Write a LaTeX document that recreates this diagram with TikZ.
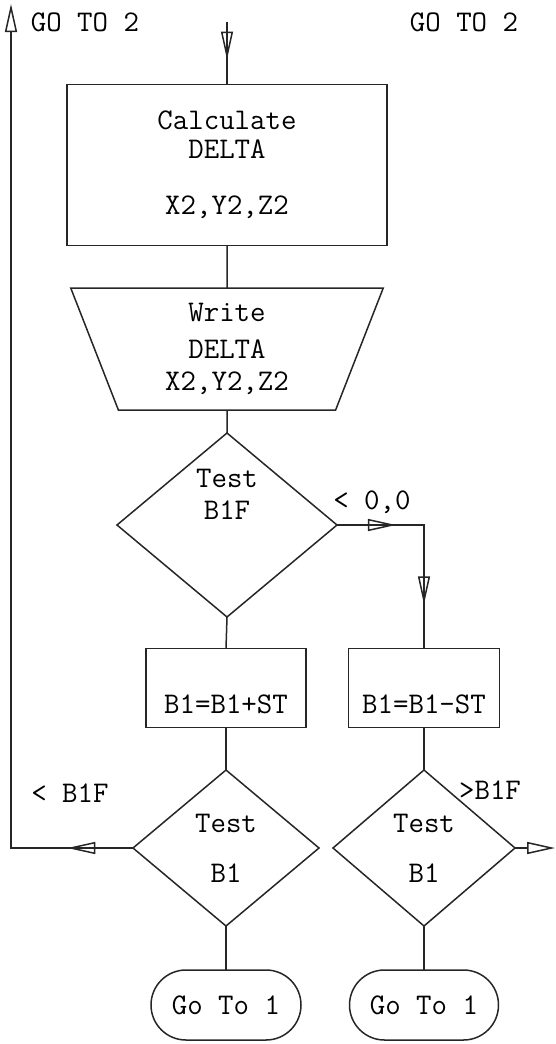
\documentclass[tikz,border=0pt]{standalone}
\usepackage{tikz}
\usetikzlibrary{shapes.geometric,shapes.misc,arrows.meta,positioning,calc,decorations.markings}

\begin{document}
\begin{tikzpicture}[
    x=1pt, y=-1pt,
    every node/.style={font=\fontsize{30}{29}\selectfont\ttfamily},
    hollowtip/.tip={Triangle[open, length=28pt, width=12pt]},
    flow/.style={line width=1.5pt, draw=black!85},
    box/.style={draw=black!85, rectangle, line width=1.5pt, inner sep=0pt, outer sep=0pt, align=center},
    io/.style={draw=black!85, trapezium, trapezium stretches=true, shape border rotate=180,
        trapezium left angle=73.5, trapezium right angle=73.5, minimum width=313pt, minimum height=122pt,
        line width=1.5pt, inner sep=0pt, outer sep=0pt, align=center},
    decision/.style={draw=black!85, diamond, line width=1.5pt, inner sep=0pt, outer sep=0pt, align=center},
    terminal/.style={draw=black!85, rounded rectangle, line width=1.5pt, inner sep=0pt, outer sep=0pt, minimum height=70pt},
    midarrow/.style={postaction={decorate}, decoration={markings, mark=at position #1 with {\arrow{hollowtip}}}}
]
\useasboundingbox (0,0) rectangle (555,1044);

% Main column
\node[box, minimum width=320pt, minimum height=161pt] (calc) at (227,165) {Calculate\\DELTA\\[27pt]X2,Y2,Z2};
\node[io] (write) at (227,349) {Write\\[8pt]DELTA\\[3pt]X2,Y2,Z2};
\node[decision, minimum width=220pt, minimum height=184pt, text depth=62pt] (testbf) at (227,525) {Test\\[3pt]B1F};

% Two branches
\node[box, minimum width=160pt, minimum height=79pt, text height=50pt, text depth=0pt] (plus) at (226,688) {B1=B1+ST};
\node[box, minimum width=151pt, minimum height=79pt, text height=50pt, text depth=0pt] (minus) at (424,688) {B1=B1-ST};
\node[decision, minimum width=186pt, minimum height=156pt] (testl) at (226,848) {Test\\[21pt]B1};
\node[decision, minimum width=182pt, minimum height=156pt] (testr) at (424,848) {Test\\[21pt]B1};
\node[terminal, minimum width=150pt] (gol) at (226,1005) {Go To 1};
\node[terminal, minimum width=149pt] (gor) at (424,1005) {Go To 1};

% Labels
\node (gotoleft) at (85,22) {GO TO 2};
\node (gotoright) at (464,22) {GO TO 2};
\node (ltzero) at (372,502) {< 0,0};
\node (ltbf) at (70,793) {< B1F};
\node (gtbf) at (490,790) {>B1F};

% Free ends
\coordinate (start) at (227,22);
\coordinate (turn) at (minus.north |- testbf.east);
\coordinate (backcorner) at (11,848);
\coordinate (backtop) at (11,4);
\coordinate (exitr) at (555,848);

\draw[flow, midarrow=0.6] (start) -- (calc.north);
\draw[flow] (calc.south) -- (write.north);
\draw[flow] (write.south) -- (testbf.north);
\draw[flow, postaction={decorate}, decoration={markings,
    mark=at position 0.28 with {\arrow{hollowtip}},
    mark=at position 0.79 with {\arrow{hollowtip}}}] (testbf.east) -- (turn) -- (minus.north);
\draw[flow] (testbf.south) -- (plus.north);
\draw[flow] (plus.south) -- (testl.north);
\draw[flow] (minus.south) -- (testr.north);
\draw[flow] (testl.south) -- (gol.north);
\draw[flow] (testr.south) -- (gor.north);
\draw[flow, -hollowtip, midarrow=0.068] (testl.west) -- (backcorner) -- (backtop);
\draw[flow, -hollowtip] (testr.east) -- (exitr);

\end{tikzpicture}
\end{document}
